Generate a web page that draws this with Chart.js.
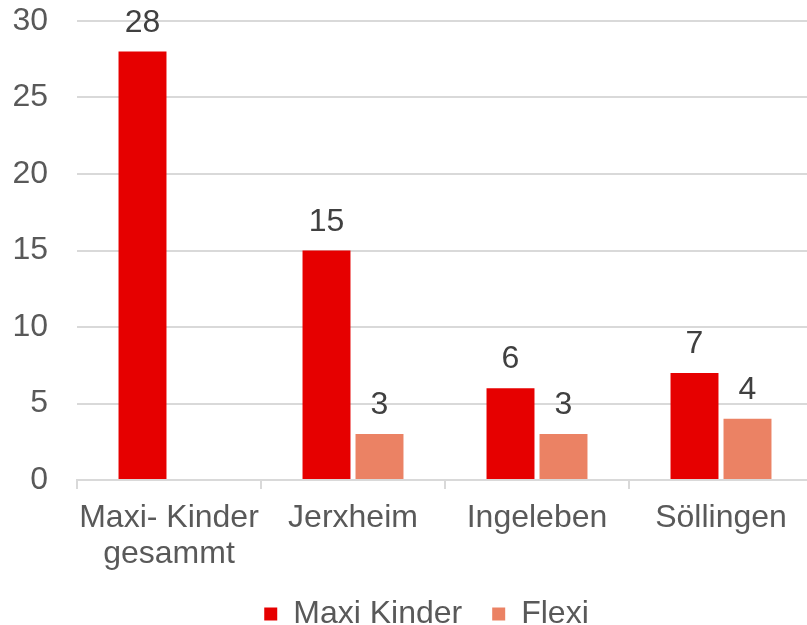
<!DOCTYPE html>
<html>
<head>
<meta charset="utf-8">
<script src="https://cdn.jsdelivr.net/npm/chart.js@4/dist/chart.umd.min.js"></script>
<style>
  html, body { margin: 0; padding: 0; overflow: hidden; background: #fff; }
  #wrap { width: 820px; height: 640px; }
</style>
</head>
<body>
<div id="wrap"><canvas id="myChart" width="820" height="640"></canvas></div>
<script>
const categories = [['Maxi- Kinder', 'gesammt'], 'Jerxheim', 'Ingeleben', 'Söllingen'];
const maxiKinder = [28, 15, 6, 7];
const flexi = [null, 3, 3, 4];
const yTicks = [0, 5, 10, 15, 20, 25, 30];

const FONT = "'Liberation Sans', Arial, sans-serif";

// draw value labels above the bars
const valueLabels = {
    id: 'valueLabels',
    afterLayout(chart) {
        // legend sits a bit right of the canvas centre in the original
        if (chart.legend) chart.legend.left += 40;
        // let the two-line category label keep its descenders
        chart.scales.x.bottom += 12;
    },
    afterDatasetsDraw(chart) {
        const ctx = chart.ctx;
        ctx.save();
        ctx.font = '32px ' + FONT;
        ctx.fillStyle = '#404040';
        ctx.textAlign = 'center';
        ctx.textBaseline = 'alphabetic';
        chart.data.datasets.forEach((ds, i) => {
            chart.getDatasetMeta(i).data.forEach((bar, j) => {
                const v = ds.data[j];
                if (v === null || v === undefined) return;
                ctx.fillText(String(v), bar.x, bar.y - 20);
            });
        });
        ctx.restore();
    }
};

const ctx = document.getElementById('myChart').getContext('2d');
new Chart(ctx, {
    type: 'bar',
    data: {
        labels: categories,
        datasets: [{
            label: 'Maxi Kinder',
            data: maxiKinder,
            backgroundColor: '#E60000',
            categoryPercentage: 0.576,
            barPercentage: 0.905
        }, {
            label: 'Flexi',
            data: flexi,
            backgroundColor: '#EB8264',
            categoryPercentage: 0.576,
            barPercentage: 0.905
        }]
    },
    options: {
        responsive: false,
        animation: false,
        layout: { padding: { left: 0, right: 7, top: 21, bottom: 0 } },
        plugins: {
            tooltip: { enabled: false },
            legend: {
                position: 'bottom',
                labels: {
                    boxWidth: 13,
                    boxHeight: 13,
                    padding: 30,
                    color: '#595959',
                    font: { family: FONT, size: 32 }
                }
            }
        },
        scales: {
            x: {
                grid: {
                    offset: true,
                    drawOnChartArea: false,
                    tickLength: 9,
                    color: '#D9D9D9',
                    lineWidth: 2
                },
                border: { color: '#D9D9D9', width: 2 },
                ticks: {
                    color: '#595959',
                    padding: 12,
                    maxRotation: 0,
                    minRotation: 0,
                    autoSkip: false,
                    font: { family: FONT, size: 32, lineHeight: 1.1 }
                },
                afterFit(scale) {
                    scale.height = 88;
                    scale.paddingLeft = 0;
                    scale.paddingRight = 0;
                }
            },
            y: {
                min: 0,
                max: 30,
                afterBuildTicks(scale) { scale.ticks = yTicks.map(v => ({ value: v })); },
                grid: { color: '#D9D9D9', lineWidth: 2, drawTicks: false },
                border: { display: false },
                ticks: {
                    color: '#595959',
                    padding: 29,
                    font: { family: FONT, size: 32 }
                },
                afterFit(scale) {
                    scale.width = 77;
                    scale.paddingTop = 0;
                    scale.paddingBottom = 0;
                }
            }
        }
    },
    plugins: [valueLabels]
});
</script>
</body>
</html>
